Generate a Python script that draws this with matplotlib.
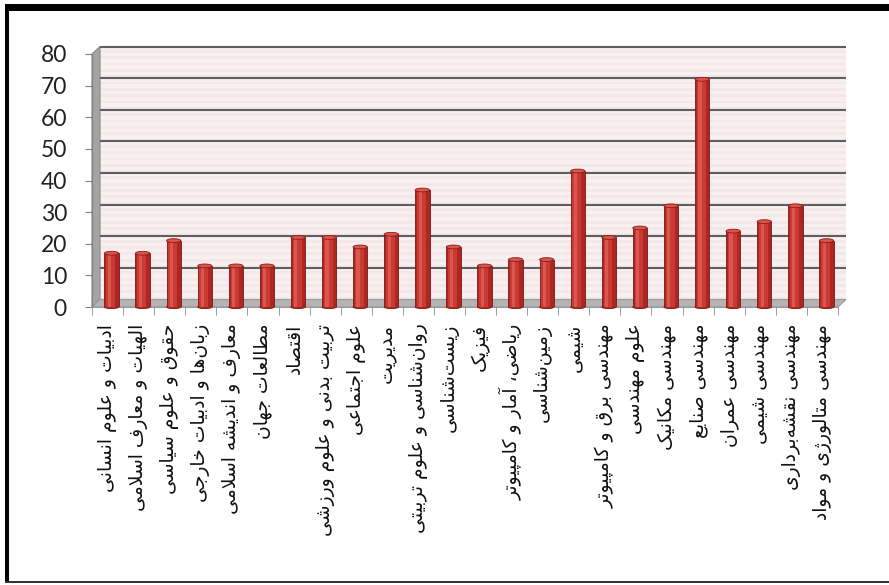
import matplotlib
matplotlib.use("Agg")
import matplotlib.pyplot as plt
from matplotlib.patches import Rectangle, Polygon, Ellipse
import numpy as np

# ---------------- data ----------------
categories = [
    "ادبیات و علوم انسانی",
    "الهیات و معارف اسلامی",
    "حقوق و علوم سیاسی",
    "زبان\u200cها و ادبیات خارجی",
    "معارف و اندیشه اسلامی",
    "مطالعات جهان",
    "اقتصاد",
    "تربیت بدنی و علوم ورزشی",
    "علوم اجتماعی",
    "مدیریت",
    "روان\u200cشناسی و علوم تربیتی",
    "زیست\u200cشناسی",
    "فیزیک",
    "ریاضی، آمار و کامپیوتر",
    "زمین\u200cشناسی",
    "شیمی",
    "مهندسی برق و کامپیوتر",
    "علوم مهندسی",
    "مهندسی مکانیک",
    "مهندسی صنایع",
    "مهندسی عمران",
    "مهندسی شیمی",
    "مهندسی نقشه\u200cبرداری",
    "مهندسی متالورژی و مواد",
]
values = [17, 17, 21, 13, 13, 13, 22, 22, 19, 23, 37, 19,
          13, 15, 15, 43, 22, 25, 32, 72, 24, 27, 32, 21]
yticks = [0, 10, 20, 30, 40, 50, 60, 70, 80]

# ---------------- simple Persian shaping ----------------
FORMS = {
    '\u0622': ('\uFE81', '\uFE82', None, None),
    '\u0627': ('\uFE8D', '\uFE8E', None, None),
    '\u0628': ('\uFE8F', '\uFE90', '\uFE91', '\uFE92'),
    '\u067E': ('\uFB56', '\uFB57', '\uFB58', '\uFB59'),
    '\u062A': ('\uFE95', '\uFE96', '\uFE97', '\uFE98'),
    '\u062B': ('\uFE99', '\uFE9A', '\uFE9B', '\uFE9C'),
    '\u062C': ('\uFE9D', '\uFE9E', '\uFE9F', '\uFEA0'),
    '\u0686': ('\uFB7A', '\uFB7B', '\uFB7C', '\uFB7D'),
    '\u062D': ('\uFEA1', '\uFEA2', '\uFEA3', '\uFEA4'),
    '\u062E': ('\uFEA5', '\uFEA6', '\uFEA7', '\uFEA8'),
    '\u062F': ('\uFEA9', '\uFEAA', None, None),
    '\u0630': ('\uFEAB', '\uFEAC', None, None),
    '\u0631': ('\uFEAD', '\uFEAE', None, None),
    '\u0632': ('\uFEAF', '\uFEB0', None, None),
    '\u0698': ('\uFB8A', '\uFB8B', None, None),
    '\u0633': ('\uFEB1', '\uFEB2', '\uFEB3', '\uFEB4'),
    '\u0634': ('\uFEB5', '\uFEB6', '\uFEB7', '\uFEB8'),
    '\u0635': ('\uFEB9', '\uFEBA', '\uFEBB', '\uFEBC'),
    '\u0636': ('\uFEBD', '\uFEBE', '\uFEBF', '\uFEC0'),
    '\u0637': ('\uFEC1', '\uFEC2', '\uFEC3', '\uFEC4'),
    '\u0638': ('\uFEC5', '\uFEC6', '\uFEC7', '\uFEC8'),
    '\u0639': ('\uFEC9', '\uFECA', '\uFECB', '\uFECC'),
    '\u063A': ('\uFECD', '\uFECE', '\uFECF', '\uFED0'),
    '\u0641': ('\uFED1', '\uFED2', '\uFED3', '\uFED4'),
    '\u0642': ('\uFED5', '\uFED6', '\uFED7', '\uFED8'),
    '\u06A9': ('\uFB8E', '\uFB8F', '\uFB90', '\uFB91'),
    '\u06AF': ('\uFB92', '\uFB93', '\uFB94', '\uFB95'),
    '\u0644': ('\uFEDD', '\uFEDE', '\uFEDF', '\uFEE0'),
    '\u0645': ('\uFEE1', '\uFEE2', '\uFEE3', '\uFEE4'),
    '\u0646': ('\uFEE5', '\uFEE6', '\uFEE7', '\uFEE8'),
    '\u0648': ('\uFEED', '\uFEEE', None, None),
    '\u0647': ('\uFEE9', '\uFEEA', '\uFEEB', '\uFEEC'),
    '\u06CC': ('\uFBFC', '\uFBFD', '\uFBFE', '\uFBFF'),
}


def dual(c):
    return c in FORMS and FORMS[c][2] is not None


def shape(s):
    chars = list(s)
    n = len(chars)
    res = []
    i = 0
    while i < n:
        c = chars[i]
        if c not in FORMS:
            if c != '\u200c':
                res.append(c)
            i += 1
            continue
        prev = chars[i - 1] if i > 0 else None
        jp = prev is not None and dual(prev)
        if c == '\u0644' and i + 1 < n and chars[i + 1] == '\u0627':
            res.append('\uFEFC' if jp else '\uFEFB')
            i += 2
            continue
        nxt = chars[i + 1] if i + 1 < n else None
        jn = dual(c) and nxt is not None and nxt in FORMS
        iso, fin, ini, med = FORMS[c]
        if jp and jn:
            g = med
        elif jp:
            g = fin
        elif jn:
            g = ini
        else:
            g = iso
        res.append(g)
        i += 1
    return ''.join(reversed(res))


# ---------------- figure ----------------
W, H = 889, 585
fig = plt.figure(figsize=(W / 100, H / 100), dpi=100)
fig.patch.set_facecolor('white')

ax_left, ax_right = 92, 838
ax_base, ax_top80 = 307, 54
ax = fig.add_axes([ax_left / W, (H - ax_base) / H,
                   (ax_right - ax_left) / W, (ax_base - ax_top80) / H])
ax.set_xlim(-0.5, len(categories) - 0.5)
ax.set_ylim(0, 80)
ax.set_facecolor('none')

px_x = (ax_right - ax_left) / len(categories)
px_y = (ax_base - ax_top80) / 80
DX = 8 / px_x
DY = 7.5 / px_y
x0, x1 = -0.5, len(categories) - 0.5

# back wall
ax.add_patch(Rectangle((x0 + DX, DY), x1 - x0, 80, facecolor='#f8f0f0',
                       edgecolor='none', zorder=0, clip_on=False))
for k in range(0, 80, 2):
    ax.add_patch(Rectangle((x0 + DX, DY + k), x1 - x0, 0.9,
                           facecolor='#eedede', edgecolor='none',
                           alpha=0.45, zorder=0.1, clip_on=False))
# left wall
ax.add_patch(Polygon([(x0, 0), (x0 + DX, DY), (x0 + DX, 80 + DY), (x0, 80)],
                     closed=True, facecolor='#a4a4a4', edgecolor='#8a8a8a',
                     lw=0.8, zorder=0.5, clip_on=False))
# floor
ax.add_patch(Polygon([(x0, 0), (x1, 0), (x1 + DX, DY), (x0 + DX, DY)],
                     closed=True, facecolor='#b4b4b4', edgecolor='#9a9a9a',
                     lw=0.8, zorder=0.6, clip_on=False))
# gridlines on the back wall
ax.hlines([t + DY for t in yticks[1:]], x0 + DX, x1 + DX, colors='#5e5e5e',
          lw=1.5, zorder=1, clip_on=False)

# cylinder bars
xs = np.arange(len(categories)) + DX / 2
bw = 0.46
ax.bar(xs, values, width=bw, color='#ad2622', edgecolor='#7d1614',
       lw=0.6, zorder=3)
ax.bar(xs - 0.03, values, width=bw * 0.62, color='#c93a33', lw=0, zorder=3.1)
ax.bar(xs - 0.07, values, width=bw * 0.22, color='#df5f57', lw=0,
       alpha=0.8, zorder=3.2)
for xv, v in zip(xs, values):
    ax.add_patch(Ellipse((xv, 0), bw, 1.0, facecolor='#ad2622',
                         edgecolor='#7d1614', lw=0.6, zorder=2.9, clip_on=False))
    ax.add_patch(Ellipse((xv, v), bw, 1.2, facecolor='#d9544c',
                         edgecolor='#8d1c18', lw=0.6, zorder=3.3, clip_on=False))

# axes styling
for s in ['top', 'right']:
    ax.spines[s].set_visible(False)
ax.spines['left'].set_color('#808080')
ax.spines['bottom'].set_color('#9a9a9a')
ax.set_yticks(yticks)
ax.set_yticklabels([str(t) for t in yticks],
                   family=['Lato', 'DejaVu Sans'],
                   fontsize=16.5, color='#222222')
ax.tick_params(axis='y', length=5, color='#808080', pad=13)

ax.set_xticks(np.arange(len(categories)))
ax.set_xticklabels([shape(c) for c in categories], rotation=90,
                   family=['DejaVu Sans'], fontsize=13.5, color='#111111')
ax.set_xticks(np.arange(len(categories) + 1) - 0.5, minor=True)
ax.tick_params(axis='x', which='major', length=0, pad=12)
ax.tick_params(axis='x', which='minor', length=6, color='#8a8a8a')

# outer frame (black borders as in the reference)
fig.add_artist(Rectangle((5 / W, (H - 11) / H), 1 - 5 / W, 7 / H,
                         transform=fig.transFigure, facecolor='black',
                         edgecolor='none'))
fig.add_artist(Rectangle((5 / W, (H - 583) / H), 4 / W, 579 / H,
                         transform=fig.transFigure, facecolor='black',
                         edgecolor='none'))
fig.add_artist(Rectangle((5 / W, (H - 583) / H), 1 - 5 / W, 2.5 / H,
                         transform=fig.transFigure, facecolor='#333333',
                         edgecolor='none'))

fig.savefig('out.png', dpi=100)
